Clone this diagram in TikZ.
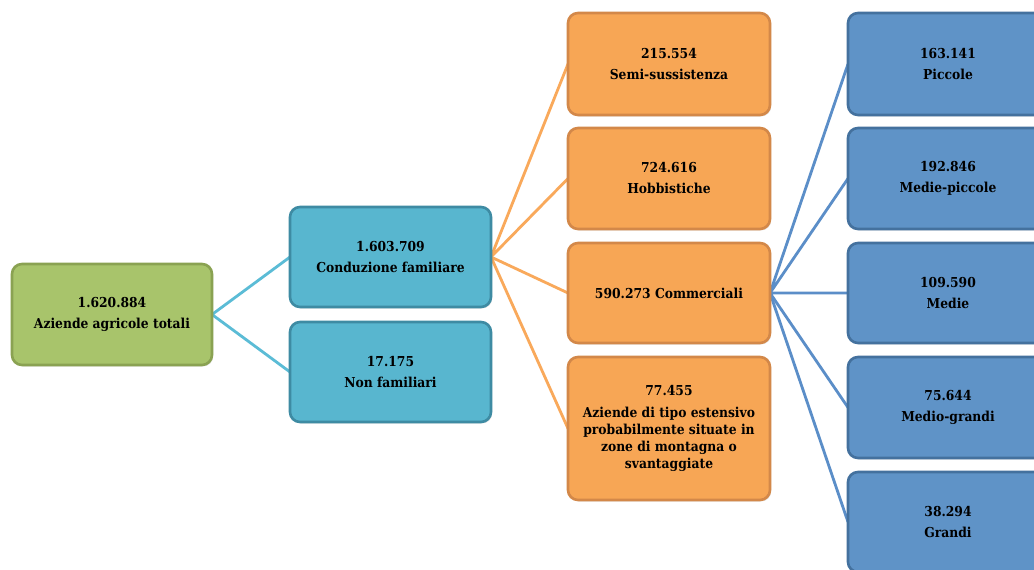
\documentclass[tikz,border=0pt]{standalone}
\usepackage{fontspec}
\setmainfont{DejaVu Serif Condensed}
\usetikzlibrary{shadows}
\definecolor{gfill}{HTML}{A8C46B}
\definecolor{gdraw}{HTML}{8AA252}
\definecolor{tfill}{HTML}{58B6CF}
\definecolor{tdraw}{HTML}{3E8BA3}
\definecolor{ofill}{HTML}{F7A655}
\definecolor{odraw}{HTML}{D38849}
\definecolor{bfill}{HTML}{5F93C7}
\definecolor{bdraw}{HTML}{44719E}
\definecolor{tline}{HTML}{5BBCD6}
\definecolor{oline}{HTML}{F9A95B}
\definecolor{bline}{HTML}{5B8EC8}
\tikzset{
  box/.style={rectangle, rounded corners=10pt, line width=2.6pt, align=center,
    minimum width=200pt, minimum height=100pt, inner sep=2pt,
    font=\bfseries\fontsize{13.7}{17}\selectfont, text=black,
    drop shadow={opacity=0.18, shadow xshift=1.2pt, shadow yshift=-1.5pt}},
  gbox/.style={box, fill=gfill, draw=gdraw},
  tbox/.style={box, fill=tfill, draw=tdraw, minimum width=201pt},
  obox/.style={box, fill=ofill, draw=odraw, minimum width=202pt},
  bbox/.style={box, fill=bfill, draw=bdraw},
  conn/.style={line width=2.8pt},
}
\begin{document}
\begin{tikzpicture}[x=1pt,y=-1pt]
\clip (0,0) rectangle (1034,570);
\fill[white] (0,0) rectangle (1034,570);
% connectors (behind)
\coordinate (gE) at (212,314.5);
\coordinate (t1W) at (290,257);
\coordinate (t2W) at (290,372);
\coordinate (t1E) at (491,257);
\coordinate (o1W) at (568,64);
\coordinate (o2W) at (568,178.5);
\coordinate (o3W) at (568,293);
\coordinate (o4W) at (568,428.5);
\coordinate (o3E) at (770,293);
\coordinate (b1W) at (848,64);
\coordinate (b2W) at (848,178.5);
\coordinate (b3W) at (848,293);
\coordinate (b4W) at (848,407.5);
\coordinate (b5W) at (848,522);
\draw[conn, tline] (t1W) -- (gE) -- (t2W);
\draw[conn, oline] (o1W) -- (t1E) -- (o2W);
\draw[conn, oline] (o3W) -- (t1E) -- (o4W);
\draw[conn, bline] (b1W) -- (o3E) -- (b2W);
\draw[conn, bline] (b3W) -- (o3E) -- (b4W);
\draw[conn, bline] (o3E) -- (b5W);
% boxes
\node[gbox, minimum height=101pt] (g) at (112,314.5) {1.620.884\\[4pt]Aziende agricole totali};
\node[tbox] (t1) at (390.5,257) {1.603.709\\[4pt]Conduzione familiare};
\node[tbox] (t2) at (390.5,372) {17.175\\[4pt]Non familiari};
\node[obox, minimum height=102pt] (o1) at (669,64) {215.554\\[4pt]Semi-sussistenza};
\node[obox, minimum height=101pt] (o2) at (669,178.5) {724.616\\[4pt]Hobbistiche};
\node[obox] (o3) at (669,293) {590.273 Commerciali};
\node[obox, minimum height=143pt] (o4) at (669,428.5) {77.455\\[5pt]Aziende di tipo estensivo\\probabilmente situate in\\zone di montagna o\\svantaggiate};
\node[bbox, minimum height=102pt] (b1) at (948,64) {163.141\\[4pt]Piccole};
\node[bbox, minimum height=101pt] (b2) at (948,178.5) {192.846\\[4pt]Medie-piccole};
\node[bbox] (b3) at (948,293) {109.590\\[4pt]Medie};
\node[bbox, minimum height=101pt] (b4) at (948,407.5) {75.644\\[4pt]Medio-grandi};
\node[bbox] (b5) at (948,522) {38.294\\[4pt]Grandi};
\end{tikzpicture}
\end{document}
